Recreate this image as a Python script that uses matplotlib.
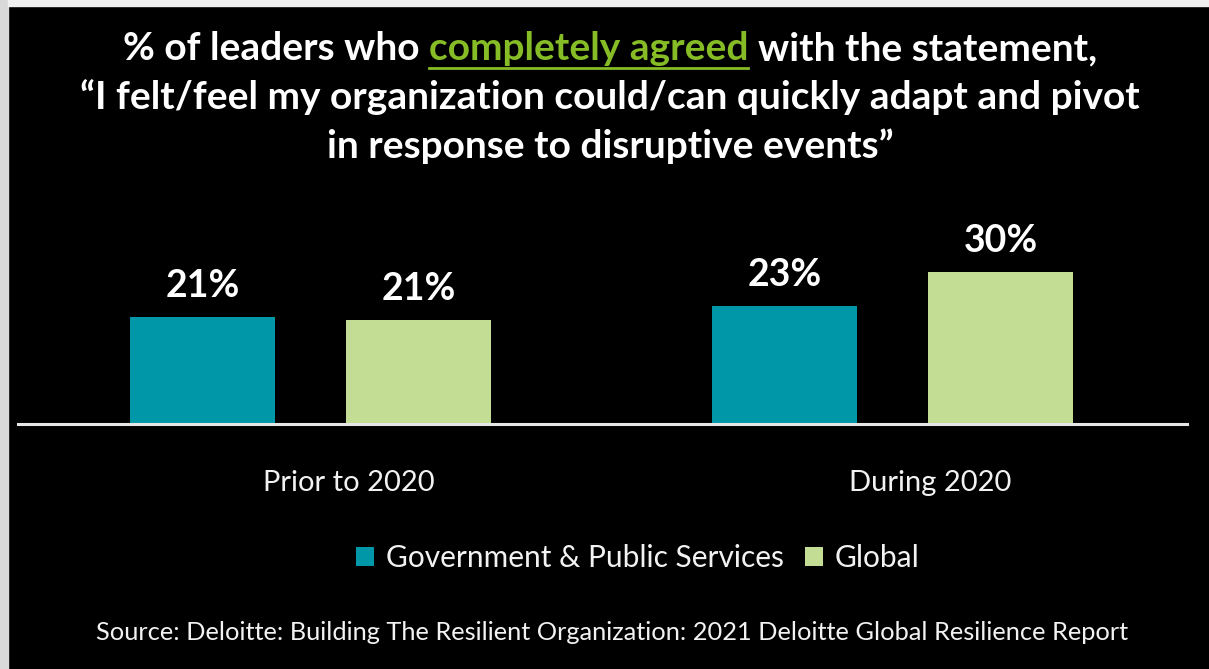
import matplotlib.pyplot as plt
from matplotlib.patches import Rectangle
from matplotlib.lines import Line2D
from matplotlib.transforms import ScaledTranslation
import numpy as np

# data
periods = ["Prior to 2020", "During 2020"]
series_names = ["Government & Public Services", "Global"]
gov_values = [21.1, 23.3]
global_values = [20.6, 30.0]

teal = "#0097A9"
light_green = "#C4DD94"
title_green = "#86BC25"
font = "Lato"

W, H = 1209, 669
fig = plt.figure(figsize=(W / 100, H / 100), dpi=100, facecolor="black")

# light border strips like the screenshot
fig.patches.append(Rectangle((0, 0), 8 / W, 1, transform=fig.transFigure,
                             color="#D9D9D9", zorder=0))
fig.patches.append(Rectangle((8 / W, 1 - 6 / H), 1, 6 / H, transform=fig.transFigure,
                             color="#F0F0F0", zorder=0))

px_per_pct = 5.07
ax_left, ax_right = 18, 1187
ax_bottom, ax_top = 424, 200
ax = fig.add_axes([ax_left / W, 1 - ax_bottom / H, (ax_right - ax_left) / W,
                   (ax_bottom - ax_top) / H])
ax.set_facecolor("black")

x = np.arange(len(periods))
bw = 0.249
off = 0.186
b1 = ax.bar(x - off, gov_values, bw, color=teal, label=series_names[0])
b2 = ax.bar(x + off, global_values, bw, color=light_green, label=series_names[1])

ax.set_xlim(-0.503, 1.506)
ax.set_ylim(0, (ax_bottom - ax_top) / px_per_pct)

for bars in (b1, b2):
    for rect in bars:
        v = rect.get_height()
        ax.annotate(f"{v:.0f}%", (rect.get_x() + rect.get_width() / 2, v),
                    xytext=(0, 10), textcoords="offset points", ha="center", va="bottom",
                    color="white", fontsize=27, fontweight="bold", family=font)

for s in ["top", "right", "left"]:
    ax.spines[s].set_visible(False)
ax.spines["bottom"].set_color("#E6E6E6")
ax.spines["bottom"].set_linewidth(2.2)
ax.set_yticks([])
ax.set_xticks(x)
ax.set_xticklabels(periods, color="#F2F2F2", fontsize=21, family=font)
ax.tick_params(axis="x", length=0, pad=33)
shift = ScaledTranslation(38 / 100, 0, fig.dpi_scale_trans)
for lab in ax.get_xticklabels():
    lab.set_transform(lab.get_transform() + shift)

leg = fig.legend(handles=[b1, b2], loc="center", bbox_to_anchor=(638 / W, 1 - 558 / H),
                 ncol=2, frameon=False, handlelength=0.6, handleheight=0.6,
                 handletextpad=0.4, columnspacing=0.7, prop={"family": font, "size": 21.5})
for t in leg.get_texts():
    t.set_color("#F2F2F2")

# title, first line has a green underlined part
title_size = 28
cx = 610 / W
fig.canvas.draw()
renderer = fig.canvas.get_renderer()
parts = [("% of leaders who", "white"), ("completely agreed", title_green),
         ("with the statement,", "white")]
y1 = 1 - 60 / H
tmp = [fig.text(0, y1, p, fontsize=title_size, fontweight="bold", family=font,
                color=c, va="baseline") for p, c in parts]
widths = [t.get_window_extent(renderer).width for t in tmp]
sp_t = fig.text(0, 0, "a a", fontsize=title_size, fontweight="bold", family=font)
nsp_t = fig.text(0, 0, "aa", fontsize=title_size, fontweight="bold", family=font)
space = sp_t.get_window_extent(renderer).width - nsp_t.get_window_extent(renderer).width
sp_t.remove()
nsp_t.remove()
total = sum(widths) + 2 * space
xpos = cx * W - total / 2
for t, w in zip(tmp, widths):
    t.set_x(xpos / W)
    if t.get_color() == title_green:
        fig.add_artist(Line2D([xpos / W, (xpos + w) / W], [1 - 68 / H, 1 - 68 / H],
                              color=title_green, linewidth=2, transform=fig.transFigure))
    xpos += w + space

fig.text(cx, 1 - 109 / H, "\u201cI felt/feel my organization could/can quickly adapt and pivot",
         ha="center", va="baseline", fontsize=title_size, fontweight="bold", family=font,
         color="white")
fig.text(cx, 1 - 158 / H, "in response to disruptive events\u201d",
         ha="center", va="baseline", fontsize=title_size, fontweight="bold", family=font,
         color="white")

fig.text(612 / W, 1 - 633 / H,
         "Source: Deloitte: Building The Resilient Organization: 2021 Deloitte Global Resilience Report",
         ha="center", va="center", fontsize=18.3, family=font, color="#F2F2F2")

fig.savefig("out.png", dpi=100, facecolor="black")
